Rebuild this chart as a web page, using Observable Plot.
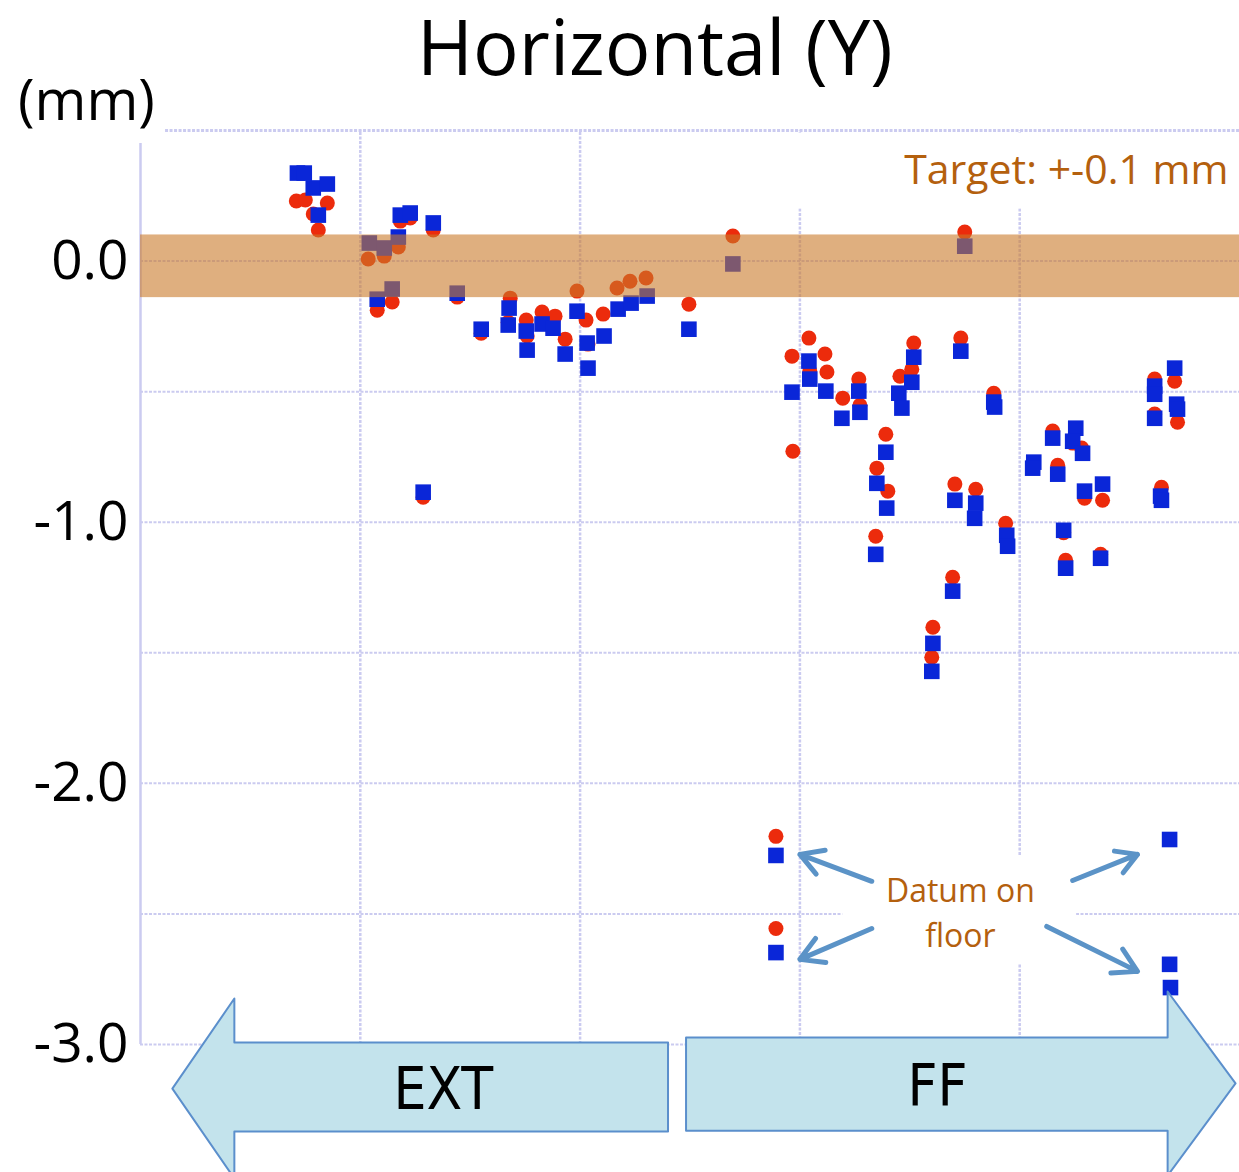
<!DOCTYPE html>
<html><head><meta charset="utf-8">
<script src="https://cdn.jsdelivr.net/npm/d3@7"></script>
<script src="https://cdn.jsdelivr.net/npm/@observablehq/plot@0.6"></script>
<style>html,body{margin:0;padding:0;background:#fff;overflow:hidden}</style>
</head><body><div id="chart"></div>
<script>
// Measured points: [position, horizontal offset (mm)]
const redPoints = [
  [0.709,0.230],[0.750,0.234],[0.786,0.180],[0.850,0.222],[0.809,0.119],
  [1.036,0.008],[1.109,0.019],[1.173,0.054],[1.182,0.153],[1.227,0.165],[1.332,0.119],
  [1.077,-0.188],[1.145,-0.157],[1.441,-0.138],[1.286,-0.904],[1.550,-0.276],
  [1.682,-0.142],[1.673,-0.234],[1.755,-0.226],[1.759,-0.287],[1.827,-0.195],[1.886,-0.211],
  [1.932,-0.299],[1.986,-0.115],[2.027,-0.226],[2.036,-0.318],[2.105,-0.203],[2.168,-0.103],
  [2.227,-0.077],[2.300,-0.065],[2.495,-0.165],[2.695,0.096],
  [2.964,-0.364],[2.968,-0.728],[3.041,-0.295],[3.045,-0.421],[3.114,-0.356],[3.123,-0.425],
  [3.195,-0.525],[3.268,-0.452],[3.273,-0.552],[3.391,-0.663],[3.350,-0.793],[3.400,-0.881],
  [3.345,-1.054],[3.455,-0.441],[3.518,-0.314],[3.509,-0.414],[3.732,-0.295],[3.750,0.111],
  [3.882,-0.506],[3.705,-0.854],[3.800,-0.874],[3.936,-1.004],[3.695,-1.211],[3.605,-1.402],
  [3.600,-1.517],[4.150,-0.651],[4.241,-0.697],[4.282,-0.716],[4.173,-0.782],[4.295,-0.908],
  [4.377,-0.916],[4.209,-1.146],[4.368,-1.123],[4.200,-1.040],[4.614,-0.452],[4.705,-0.460],
  [4.718,-0.617],[4.614,-0.586],[4.645,-0.866],
  [2.891,-2.203],[2.891,-2.556]
];
const bluePoints = [
  [0.714,0.337],[0.745,0.337],[0.786,0.280],[0.850,0.295],[0.809,0.176],
  [1.041,0.069],[1.109,0.050],[1.173,0.092],[1.182,0.176],[1.227,0.184],[1.332,0.146],
  [1.077,-0.146],[1.145,-0.107],[1.441,-0.123],[1.286,-0.885],[1.550,-0.261],
  [1.677,-0.180],[1.673,-0.245],[1.755,-0.268],[1.759,-0.341],[1.827,-0.241],[1.877,-0.257],
  [1.932,-0.356],[1.986,-0.192],[2.032,-0.314],[2.036,-0.410],[2.109,-0.287],[2.173,-0.184],
  [2.232,-0.161],[2.305,-0.134],[2.495,-0.261],[2.695,-0.011],
  [2.964,-0.502],[3.041,-0.383],[3.045,-0.452],[3.118,-0.498],[3.191,-0.602],[3.268,-0.498],
  [3.273,-0.579],[3.391,-0.732],[3.350,-0.851],[3.395,-0.946],[3.345,-1.123],[3.450,-0.506],
  [3.464,-0.563],[3.518,-0.368],[3.509,-0.464],[3.732,-0.345],[3.750,0.057],[3.882,-0.540],
  [3.886,-0.559],[3.705,-0.916],[3.800,-0.927],[3.795,-0.985],[3.941,-1.050],[3.945,-1.092],
  [3.695,-1.264],[3.605,-1.464],[3.600,-1.571],[4.064,-0.770],[4.059,-0.793],[4.150,-0.678],
  [4.255,-0.640],[4.241,-0.690],[4.286,-0.736],[4.173,-0.816],[4.295,-0.881],[4.377,-0.854],
  [4.200,-1.031],[4.209,-1.176],[4.368,-1.138],[4.614,-0.479],[4.614,-0.510],[4.705,-0.410],
  [4.714,-0.548],[4.718,-0.567],[4.614,-0.602],[4.641,-0.900],[4.645,-0.916],
  [2.891,-2.276],[2.891,-2.648],[4.682,-2.215],[4.682,-2.693],[4.686,-2.782]
];
const yTickValues = [0, -1, -2, -3];
const yGridValues = [0, -0.5, -1, -1.5, -2, -2.5, -3];
const xGridValues = [1, 2, 3, 4];
const targetBand = [{y1: -0.14, y2: 0.10}];
const titleText = "Horizontal (Y)";
const unitText = "(mm)";
const targetText = "Target: +-0.1 mm";
const datumText = "Datum on\nfloor";
const regionLabels = [{label: "EXT", x: 1.378, y: -3.176}, {label: "FF", x: 3.626, y: -3.165}];
// Annotation shapes (data units)
const extArrow = [[2.4,-2.992],[0.427,-2.992],[0.427,-2.824],[0.145,-3.169],[0.427,-3.513],[0.427,-3.333],[2.4,-3.333],[2.4,-2.992]];
const ffArrow = [[2.482,-2.973],[4.673,-2.973],[4.673,-2.797],[4.982,-3.149],[4.673,-3.502],[4.673,-3.330],[2.482,-3.330],[2.482,-2.973]];
const datumArrows = [
  {x1:3.327,y1:-2.375,x2:3.0,y2:-2.272},
  {x1:3.327,y1:-2.556,x2:3.0,y2:-2.674},
  {x1:4.241,y1:-2.372,x2:4.536,y2:-2.272},
  {x1:4.123,y1:-2.548,x2:4.536,y2:-2.720}
];

const gridColor = "#cbcbf0";
const brown = "#b4600e";
const FONT = "'Open Sans', 'Noto Sans', sans-serif";
const NARROW = "'Liberation Sans Narrow', 'DejaVu Sans Condensed', sans-serif";

const chart = Plot.plot({
  width: 1239,
  height: 1172,
  marginLeft: 140,
  marginRight: 0,
  marginTop: 130,
  marginBottom: 128,
  style: {fontFamily: FONT, background: "white", color: "black", overflow: "visible"},
  x: {domain: [0, 5], axis: null},
  y: {domain: [-3, 0.5], axis: null},
  marks: [
    Plot.ruleY(yGridValues, {x1: 0, x2: 5, stroke: gridColor, strokeWidth: 2, strokeDasharray: "3,1.5"}),
    Plot.ruleX(xGridValues, {y1: -3, y2: 0.5, stroke: gridColor, strokeWidth: 2.5, strokeDasharray: "3,1.5"}),
    Plot.ruleX([0], {y1: -3, y2: 0.45, stroke: gridColor, strokeWidth: 2.5}),
    // white text backgrounds
    Plot.rect([0], {x1: 2.955, x2: 5, y1: 0.20, y2: 0.49, fill: "white"}),
    Plot.rect([0], {x1: 3.195, x2: 4.259, y1: -2.69, y2: -2.28, fill: "white"}),
    Plot.ruleY([0.5], {x1: 0.114, x2: 5, stroke: gridColor, strokeWidth: 3, strokeDasharray: "3,1.5"}),
    Plot.dot(redPoints, {x: d => d[0], y: d => d[1], r: 7.5, fill: "#ec2b0c"}),
    Plot.dot(bluePoints, {x: d => d[0], y: d => d[1], r: 8.8, symbol: "square", fill: "#0a26d8"}),
    Plot.rect(targetBand, {x1: 0, x2: 5, y1: "y1", y2: "y2", fill: "#c97a2a", fillOpacity: 0.6}),
    Plot.line(extArrow, {x: d => d[0], y: d => d[1], fill: "#c3e3ec", stroke: "#5b8fcc", strokeWidth: 2}),
    Plot.line(ffArrow, {x: d => d[0], y: d => d[1], fill: "#c3e3ec", stroke: "#5b8fcc", strokeWidth: 2}),
    Plot.text(regionLabels, {x: "x", y: "y", text: "label", fontSize: 58, fontFamily: NARROW, fill: "black"}),
    Plot.arrow(datumArrows, {x1: "x1", y1: "y1", x2: "x2", y2: "y2", stroke: "#5b93c7", strokeWidth: 5}),
    Plot.text([datumText], {x: 3.73, y: -2.487, fontSize: 32, lineHeight: 1.4, fill: brown}),
    Plot.text([targetText], {x: 4.95, y: 0.347, fontSize: 41, textAnchor: "end", fill: brown}),
    Plot.text([titleText], {x: 2.34, y: 0.805, fontSize: 76, fill: "black"}),
    Plot.text([unitText], {x: -0.246, y: 0.607, fontSize: 56, fill: "black"}),
    Plot.axisY(yTickValues, {anchor: "left", tickSize: 0, tickPadding: 12, fontSize: 55, tickFormat: d => d.toFixed(1), fill: "black"})
  ]
});
document.getElementById("chart").appendChild(chart);
</script>
</body></html>
